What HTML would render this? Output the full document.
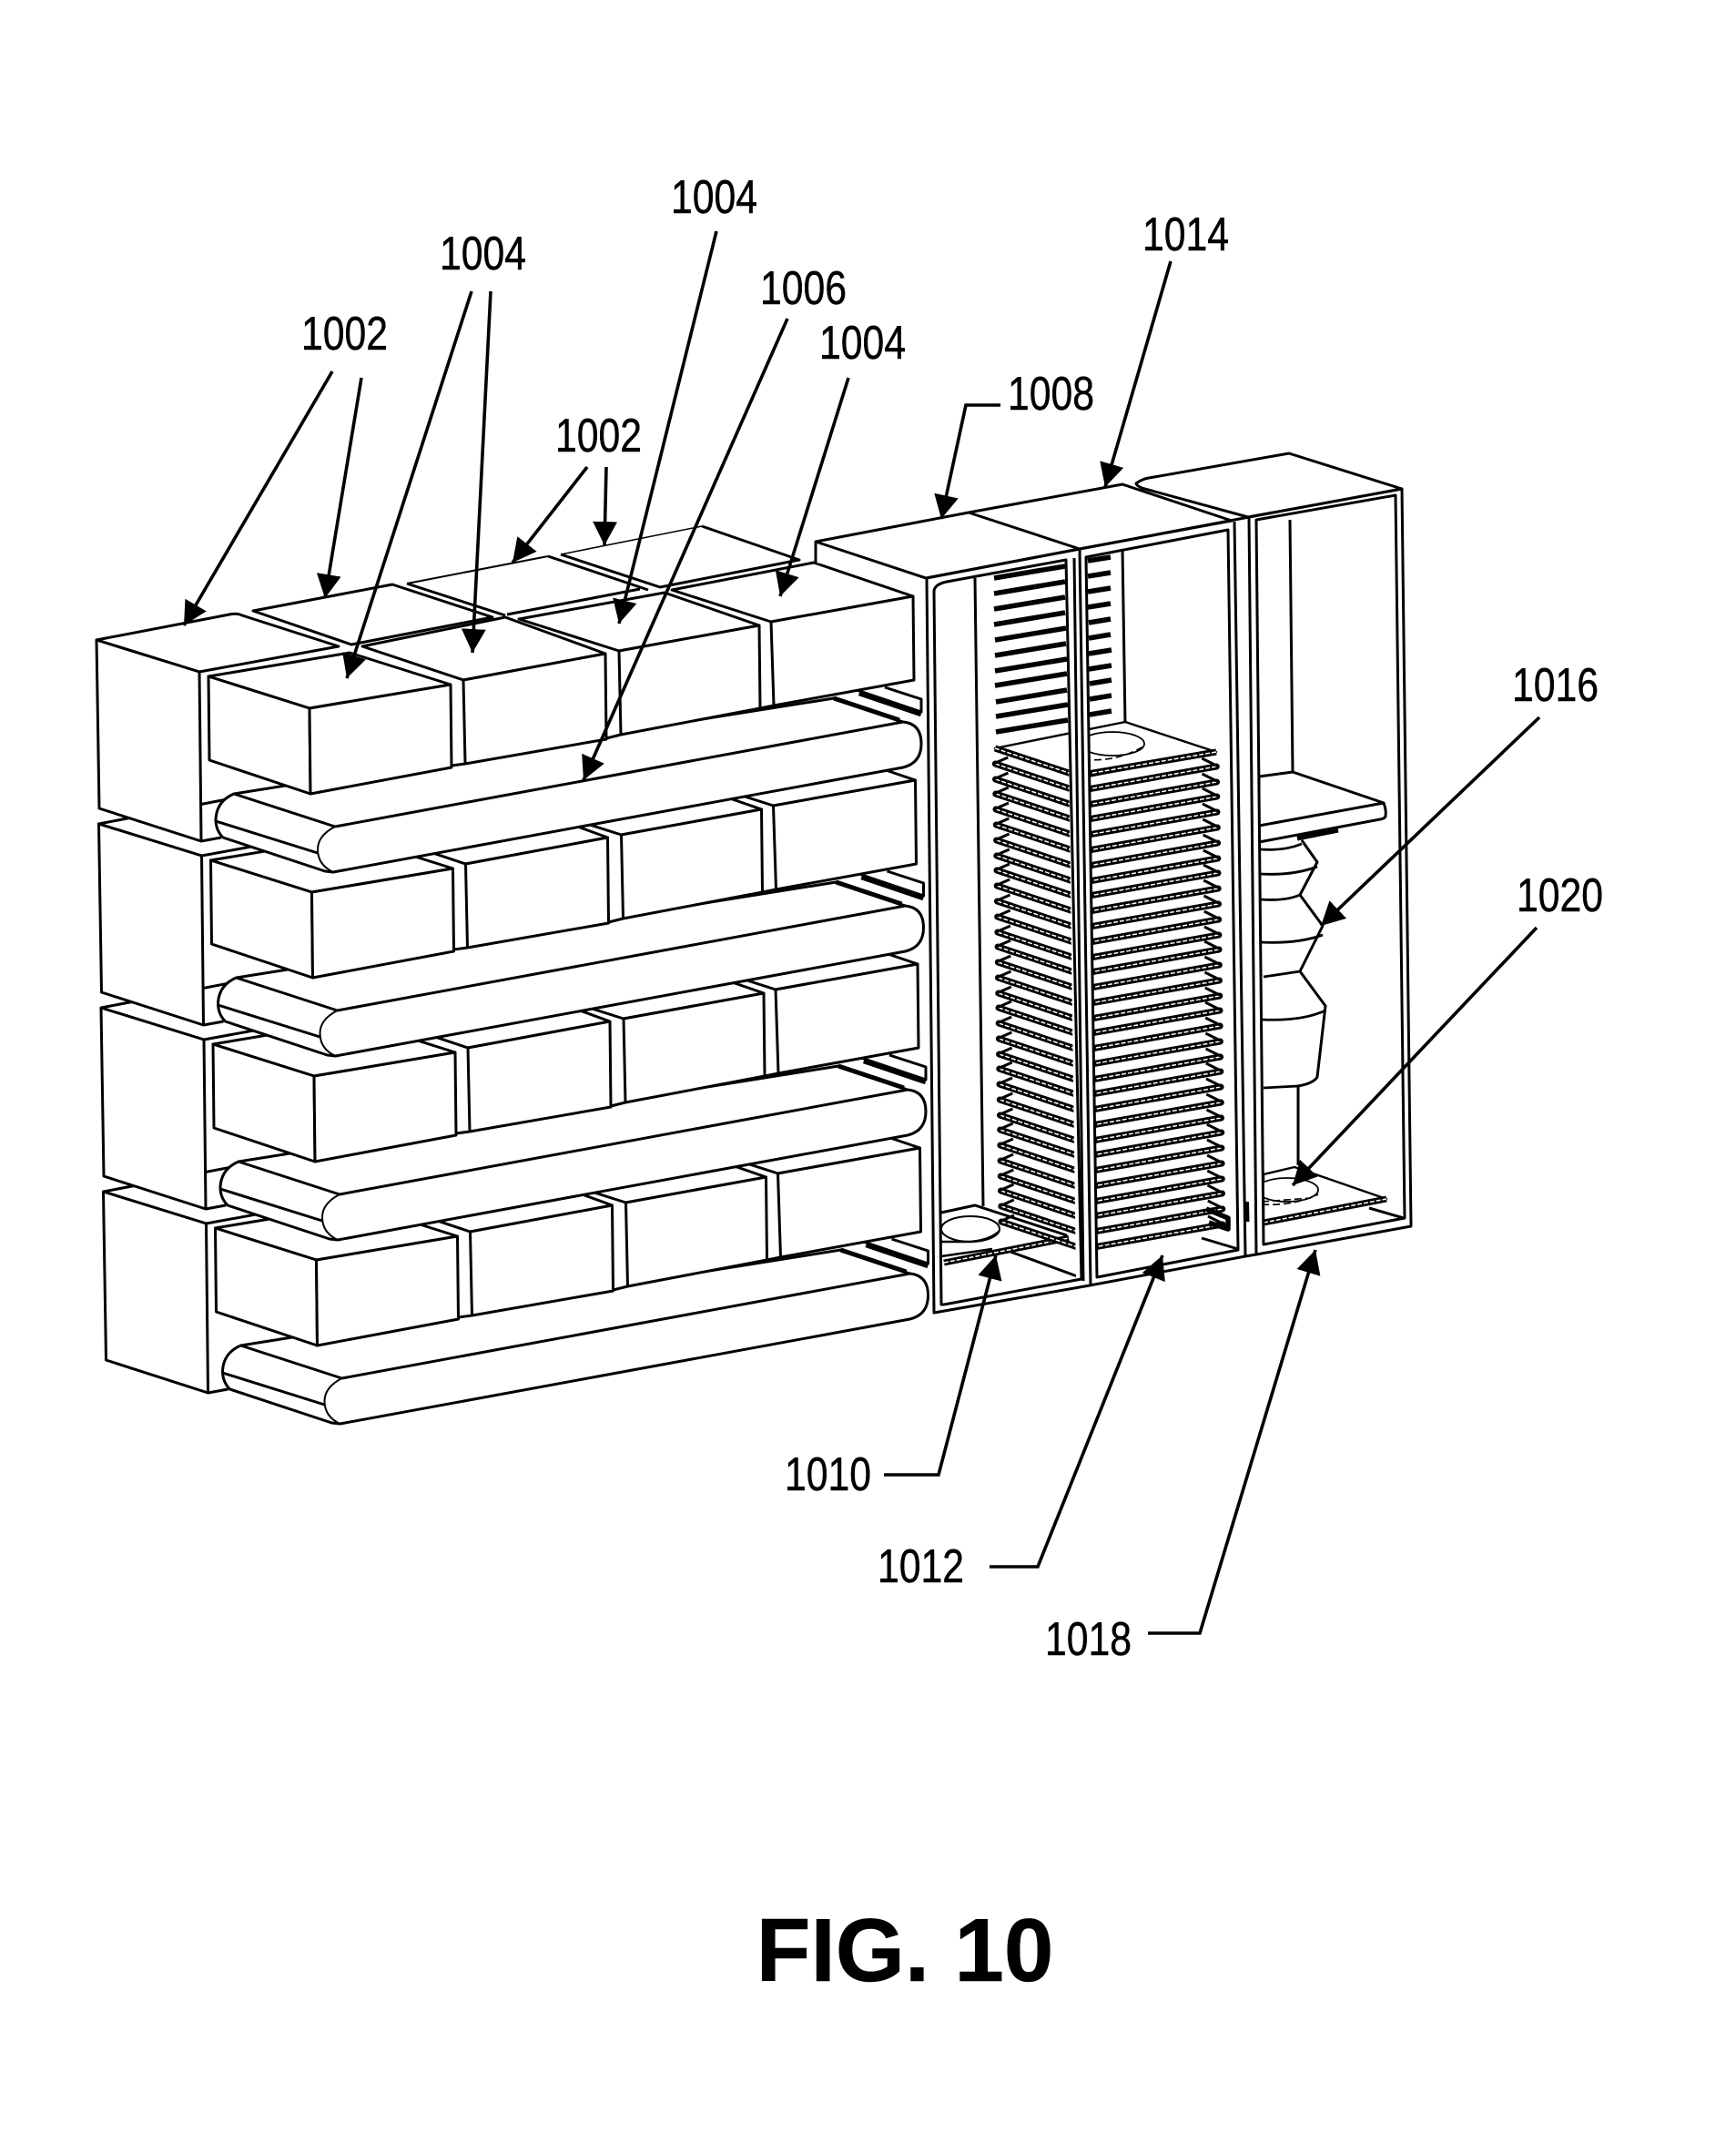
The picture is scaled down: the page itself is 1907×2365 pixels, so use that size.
<!DOCTYPE html>
<html><head><meta charset="utf-8"><style>html,body{margin:0;padding:0;background:#fff}svg{display:block}text{font-family:"Liberation Sans",sans-serif;fill:#000;stroke:#000;stroke-width:.5}</style></head>
<body>
<svg xmlns="http://www.w3.org/2000/svg" xmlns:xlink="http://www.w3.org/1999/xlink" width="1907" height="2365" viewBox="0 0 1907 2365">
<defs>
<marker id="a" viewBox="0 0 26 27" refX="26" refY="13.5" markerWidth="26" markerHeight="27" orient="auto" markerUnits="userSpaceOnUse"><path d="M0 0L26 13.5L0 27z" fill="#000"/></marker>
<g id="row" fill="#fff" stroke="#000" stroke-width="3" stroke-linejoin="round">
<path d="M972 755L1012 768L1012 782L941 758" fill="none"/>
<path d="M944 761L1012 784" stroke-width="6.5" fill="none"/>
<path d="M106 703L252 675Q260 673 266 676L372 710L219 738Z"/>
<path d="M106 703L219 738L221 924L109 888Z"/>
<path d="M221 924L243 920" fill="none"/>
<path d="M257 872L916 767L992 793Q1012 795 1012 817Q1012 838 992 843L366 958L357 957L245 920Q237 912 237 900Q238 880 257 872Z"/>
<path d="M257 872L368 908L992 793M237 902L349 937" fill="none"/>
<path d="M368 908Q349 918 349 933Q349 950 366 958" fill="none" stroke-width="2"/>
<path d="M916 767L988 791" stroke-width="5" fill="none"/>
<path d="M834 687L847 683L850 775L835 778Z" stroke="none"/><path d="M835 778L850 775" fill="none"/>
<path d="M665 718L680 715L682 807L666 812Z" stroke="none"/><path d="M666 811L682 807" fill="none"/>
<path d="M495 752L509 747L511 839L496 843Z" stroke="none"/><path d="M496 841L511 839" fill="none"/>
<path d="M738 648L847 683L1003 655L894 618Z"/>
<path d="M847 683L1003 655L1004 747L850 775Z"/>
<path d="M570 680L680 715L834 687L730 651Z"/>
<path d="M680 715L834 687L835 778L682 807Z"/>
<path d="M398 710L509 747L665 718L555 678Z"/>
<path d="M509 747L665 718L666 812L511 839Z"/>
<path d="M229 743L340 778L495 752L384 717Z"/>
<path d="M229 743L340 778L341 872L230 835Z"/>
<path d="M340 778L495 752L496 843L341 872Z"/>
</g>
<g id="p">
<path d="M1093 822L1183 852L1336 825" fill="none" stroke="#000" stroke-width="7" stroke-linejoin="round" stroke-linecap="round"/>
<path d="M1093 822L1183 852L1336 825" fill="none" stroke="#fff" stroke-width="1.5" stroke-linejoin="round" stroke-dasharray="5 2"/>
<path d="M1338 825L1320 816M1091 822L1107 815" fill="none" stroke="#000" stroke-width="3"/>
</g>
</defs>
<rect width="1907" height="2365" fill="#fff"/>

<use xlink:href="#row" href="#row" transform="translate(7.5,606)"/>
<use xlink:href="#row" href="#row" transform="translate(5,404)"/>
<use xlink:href="#row" href="#row" transform="translate(2.5,202)"/>

<!-- back row tops -->
<g fill="#fff" stroke="#000" stroke-width="3" stroke-linejoin="round">
<path d="M616 608L771 578L878 615L725 645Z" stroke="none"/>
<path d="M771 578L878 615L725 645L616 609" fill="none"/>
<path d="M616 609L771 578" fill="none" stroke-width="1.5"/>
<path d="M447 641L602 611L712 648L557 675L386 708Z" stroke="none"/>
<path d="M447 641L555 676M602 611L712 648M557 675L703 647" fill="none"/>
<path d="M447 641L602 611" fill="none" stroke-width="2"/>
<path d="M278 671L431 642L541 678L386 708Z"/>
</g>
<use xlink:href="#row" href="#row"/>

<!-- cabinets -->
<g fill="#fff" stroke="#000" stroke-width="3" stroke-linejoin="round">
<path d="M1250 528L1416 498L1540 537L1550 1347L1382 1377L1385 1400L1198 1412L1026 1442L1017 635L896 618L896 595L1064 563L1233 532Z" stroke="none"/>
<path d="M896 595L1017 635L1186 603L1353 572L1233 532L1064 563L896 595ZM896 595V618M1064 563L1186 603" />
<path d="M1248 531Q1255 526 1262 525L1416 498L1540 537L1371 568L1254 536Q1248 533 1248 531Z"/>

<!-- cab 1 interior -->
<path d="M1071 635L1080 1325M1034 1332L1071 1324L1172 1357M1110 1375L1186 1403" fill="none"/>
<ellipse cx="1066" cy="1350" rx="32" ry="14" stroke-width="2"/>
<path d="M1034 1364L1066 1364Q1088 1362 1098 1352M1034 1380L1090 1372" fill="none" stroke-width="2.4"/>
<path d="M1037 1387L1174 1360" fill="none" stroke-width="7" />
<path d="M1037 1387L1174 1360" fill="none" stroke="#fff" stroke-width="1.5" stroke-dasharray="5 2"/>

<!-- fins -->
<path d="M1092 635L1170 622M1092 652L1170 639M1092 669L1170 656M1092 686L1170 673M1093 703L1171 690M1093 720L1171 707M1093 737L1172 724M1093 753L1172 740M1094 771L1172 758M1094 787L1173 774M1094 804L1173 791" fill="none" stroke-width="5.5"/>
<path d="M1195 616L1220 612M1195 633L1220 629M1195 650L1220 646M1195 667L1220 663M1196 684L1220 680M1196 701L1220 697M1196 718L1221 714M1196 735L1221 731M1197 751L1221 747M1197 768L1221 764M1197 785L1221 781" fill="none" stroke-width="5.5"/>

<path d="M1233 603L1236 795" fill="none"/>
</g>

<!-- plates -->
<use xlink:href="#p" href="#p" transform="translate(7,520)"/>
<use xlink:href="#p" href="#p" transform="translate(6.8,503)"/>
<use xlink:href="#p" href="#p" transform="translate(6.5,486)"/>
<use xlink:href="#p" href="#p" transform="translate(6.3,470)"/>
<use xlink:href="#p" href="#p" transform="translate(6.1,453)"/>
<use xlink:href="#p" href="#p" transform="translate(5.9,436)"/>
<use xlink:href="#p" href="#p" transform="translate(5.7,419)"/>
<use xlink:href="#p" href="#p" transform="translate(5.5,403)"/>
<use xlink:href="#p" href="#p" transform="translate(5.3,386)"/>
<use xlink:href="#p" href="#p" transform="translate(5,369)"/>
<use xlink:href="#p" href="#p" transform="translate(4.8,352)"/>
<use xlink:href="#p" href="#p" transform="translate(4.6,336)"/>
<use xlink:href="#p" href="#p" transform="translate(4.4,319)"/>
<use xlink:href="#p" href="#p" transform="translate(4.2,302)"/>
<use xlink:href="#p" href="#p" transform="translate(4,285)"/>
<use xlink:href="#p" href="#p" transform="translate(3.8,269)"/>
<use xlink:href="#p" href="#p" transform="translate(3.5,252)"/>
<use xlink:href="#p" href="#p" transform="translate(3.3,235)"/>
<use xlink:href="#p" href="#p" transform="translate(3.1,218)"/>
<use xlink:href="#p" href="#p" transform="translate(2.9,202)"/>
<use xlink:href="#p" href="#p" transform="translate(2.7,185)"/>
<use xlink:href="#p" href="#p" transform="translate(2.5,168)"/>
<use xlink:href="#p" href="#p" transform="translate(2.2,151)"/>
<use xlink:href="#p" href="#p" transform="translate(2,134)"/>
<use xlink:href="#p" href="#p" transform="translate(1.8,118)"/>
<use xlink:href="#p" href="#p" transform="translate(1.6,101)"/>
<use xlink:href="#p" href="#p" transform="translate(1.3,84)"/>
<use xlink:href="#p" href="#p" transform="translate(1,67)"/>
<use xlink:href="#p" href="#p" transform="translate(.8,50)"/>
<use xlink:href="#p" href="#p" transform="translate(.5,34)"/>
<use xlink:href="#p" href="#p" transform="translate(.3,17)"/>

<g fill="#fff" stroke="#000" stroke-width="3" stroke-linejoin="round">
<!-- top plate -->
<path d="M1093 822L1236 793L1336 826L1195 853L1172 848Z" stroke-width="2.4"/>
<path d="M1093 822L1183 852L1336 826" fill="none" stroke-width="7"/>
<path d="M1093 822L1183 852L1336 826" fill="none" stroke="#fff" stroke-width="1.5" stroke-dasharray="5 2"/>
<ellipse cx="1222" cy="817" rx="35" ry="13" stroke-width="1.8"/>
<path d="M1190 834Q1225 838 1256 820" fill="none" stroke-width="1.6" stroke-dasharray="8 4"/>
<!-- lower plate corner in cab 2 -->
<path d="M1320 1360L1360 1372" fill="none"/>
<path d="M1325 1328L1349 1338L1349 1350L1328 1343" fill="none" stroke-width="5.5"/>

<!-- cab 3 interior -->
<path d="M1417 571L1420 848" fill="none"/>
<path d="M1383 853L1420 848L1520 882L1383 907Z"/>
<path d="M1520 882Q1523 890 1522 896Q1522 899 1516 900L1383 925" fill="none"/>
<path d="M1425 921L1470 912" fill="none" stroke-width="5"/>
<path d="M1430 923L1447 947L1428 983L1453 1017L1428 1067L1456 1105L1447 1183Q1443 1190 1426 1193L1426 1280" fill="none"/>
<path d="M1385 933Q1410 935 1430 927M1385 960Q1420 962 1447 952M1385 988Q1412 990 1428 983M1385 1035Q1425 1037 1453 1027M1388 1073L1428 1067M1386 1120Q1430 1122 1456 1110M1388 1195L1426 1193" fill="none" stroke-width="2.8"/>
<path d="M1388 1290L1422 1282L1523 1317L1388 1343Z" stroke-width="2.4"/>
<path d="M1388 1343L1523 1317" fill="none" stroke-width="7"/>
<path d="M1388 1343L1523 1317" fill="none" stroke="#fff" stroke-width="1.5" stroke-dasharray="5 2"/>
<ellipse cx="1414" cy="1307" rx="34" ry="13" stroke-width="1.8"/>
<path d="M1386 1323Q1420 1325 1448 1312M1386 1320L1440 1316" fill="none" stroke-width="1.6" stroke-dasharray="8 4"/>
<path d="M1504 1327L1542 1338" fill="none"/>

<!-- frames -->
<path d="M1017 635L1026 643L1034 1433L1037 1433L1026 1442Z" stroke="none"/>
<path d="M1171 615L1186 603L1193 612L1205 1403L1198 1412L1182 1407Z" stroke="none"/>
<path d="M1349 582L1356 573L1372 568L1380 571L1388 1367L1380 1378L1368 1380L1360 1373Z" stroke="none"/>
<path d="M1543 1338L1550 1347L1540 537L1533 544Z" stroke="none"/>
<path d="M1018 635L1026 1442L1197 1412L1368 1380L1380 1378L1550 1347L1540 537L1372 568L1186 603Z" fill="none"/>
<path d="M1037 1433L1188 1405L1171 615L1040 639Q1026 642 1026 650L1034 1433L1037 1433" fill="none"/>
<path d="M1180 613L1190 1407M1186 603L1198 1412" fill="none"/>
<path d="M1193 612L1349 582L1360 1373L1205 1403Z" fill="none"/>
<path d="M1356 573L1368 1380M1372 568L1380 1378" fill="none"/>
<path d="M1380 571L1533 544L1543 1338L1388 1367Z" fill="none"/>
<path d="M1369.5 1320L1370 1342" fill="none" stroke-width="5"/>
</g>

<!-- leaders and arrows -->
<g fill="none" stroke="#000" stroke-width="3.6">
<path d="M365 408L202 687" marker-end="url(#a)"/>
<path d="M397 415L357 657" marker-end="url(#a)"/>
<path d="M518 320L381 745" marker-end="url(#a)"/>
<path d="M539 320L519 717" marker-end="url(#a)"/>
<path d="M787 254L680 685" marker-end="url(#a)"/>
<path d="M865 350L641 857" marker-end="url(#a)"/>
<path d="M932 415L857 655" marker-end="url(#a)"/>
<path d="M645 513L563 618" marker-end="url(#a)"/>
<path d="M666 513L664 599" marker-end="url(#a)"/>
<path d="M1099 445H1061L1034 570" marker-end="url(#a)"/>
<path d="M1286 287L1214 535" marker-end="url(#a)"/>
<path d="M1691 788L1451 1017" marker-end="url(#a)"/>
<path d="M1688 1019L1420 1302" marker-end="url(#a)"/>
<path d="M971 1620H1031L1094 1379" marker-end="url(#a)"/>
<path d="M1087 1721H1140L1277 1379" marker-end="url(#a)"/>
<path d="M1261 1794H1318L1445 1373" marker-end="url(#a)"/>
</g>

<g font-size="52">
<text x="331" y="384" textLength="95" lengthAdjust="spacingAndGlyphs">1002</text>
<text x="483" y="296" textLength="95" lengthAdjust="spacingAndGlyphs">1004</text>
<text x="737" y="234" textLength="95" lengthAdjust="spacingAndGlyphs">1004</text>
<text x="835" y="334" textLength="95" lengthAdjust="spacingAndGlyphs">1006</text>
<text x="900" y="394" textLength="95" lengthAdjust="spacingAndGlyphs">1004</text>
<text x="610" y="496" textLength="95" lengthAdjust="spacingAndGlyphs">1002</text>
<text x="1107" y="450" textLength="95" lengthAdjust="spacingAndGlyphs">1008</text>
<text x="1255" y="275" textLength="95" lengthAdjust="spacingAndGlyphs">1014</text>
<text x="1661" y="770" textLength="95" lengthAdjust="spacingAndGlyphs">1016</text>
<text x="1666" y="1001" textLength="95" lengthAdjust="spacingAndGlyphs">1020</text>
<text x="862" y="1637" textLength="95" lengthAdjust="spacingAndGlyphs">1010</text>
<text x="964" y="1738" textLength="95" lengthAdjust="spacingAndGlyphs">1012</text>
<text x="1148" y="1818" textLength="95" lengthAdjust="spacingAndGlyphs">1018</text>
</g>
<text x="994" y="2176" font-size="98" font-weight="bold" text-anchor="middle">FIG. 10</text>
</svg>
</body></html>
